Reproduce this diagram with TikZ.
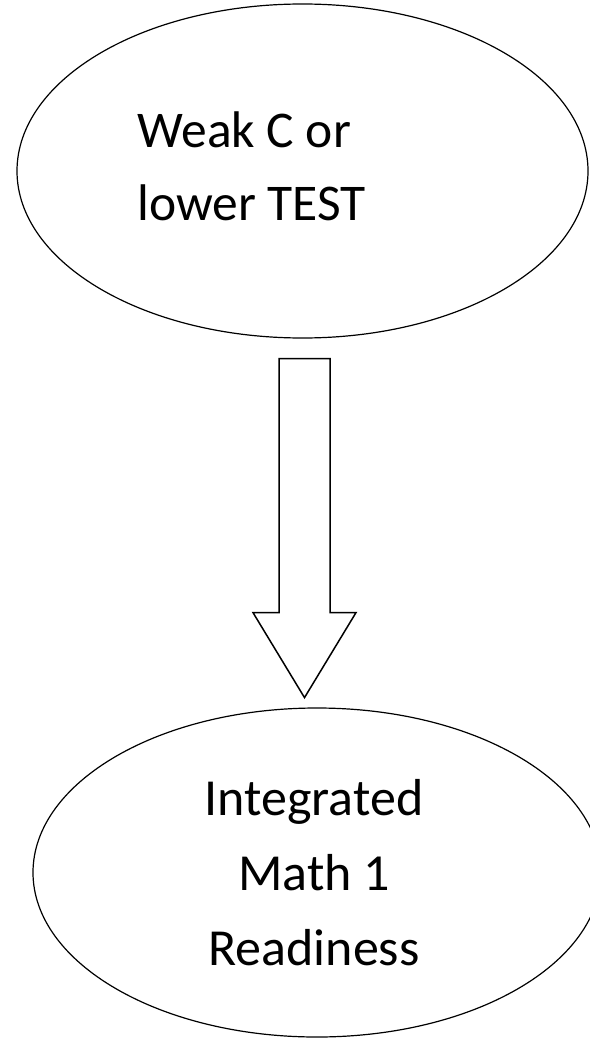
\documentclass[tikz,border=0pt]{standalone}
\usepackage{fontspec}
\setmainfont{Carlito}
\usetikzlibrary{shapes.geometric,calc}
\begin{document}
\begin{tikzpicture}[x=1pt,y=-1pt,
    bubble/.style={draw, ellipse, line width=1.2pt, inner sep=0pt},
    bigtext/.style={font=\fontsize{51.5}{73}\selectfont}]
    \useasboundingbox (0,0) rectangle (589,1038);

    % Ellissi
    \node[bubble, minimum width=571pt, minimum height=334pt] (weak) at (302.5,171) {};
    \node[bubble, minimum width=568pt, minimum height=329pt] (ready) at (317,872.5) {};

    % Testi
    \node[bigtext, align=left, anchor=base west] (weaktxt) at (134,220) {Weak C or\\lower TEST};
    \node[bigtext, font=\fontsize{52}{75}\selectfont, align=center, anchor=base] (readytxt) at (314,965) {Integrated\\Math 1\\Readiness};

    % Freccia tra le ellissi
    \coordinate (top) at ($(weak.south)+(2,20)$);
    \coordinate (tip) at ($(top)+(0,339)$);
    \draw[line width=1.5pt, line join=miter]
        ($(top)+(-25.5,0)$) -- ($(top)+(25.5,0)$) -- ($(top)+(25.5,254)$)
        -- ($(top)+(51.5,254)$) -- (tip) -- ($(top)+(-51.5,254)$)
        -- ($(top)+(-25.5,254)$) -- cycle; % Freccia larga
\end{tikzpicture}
\end{document}
